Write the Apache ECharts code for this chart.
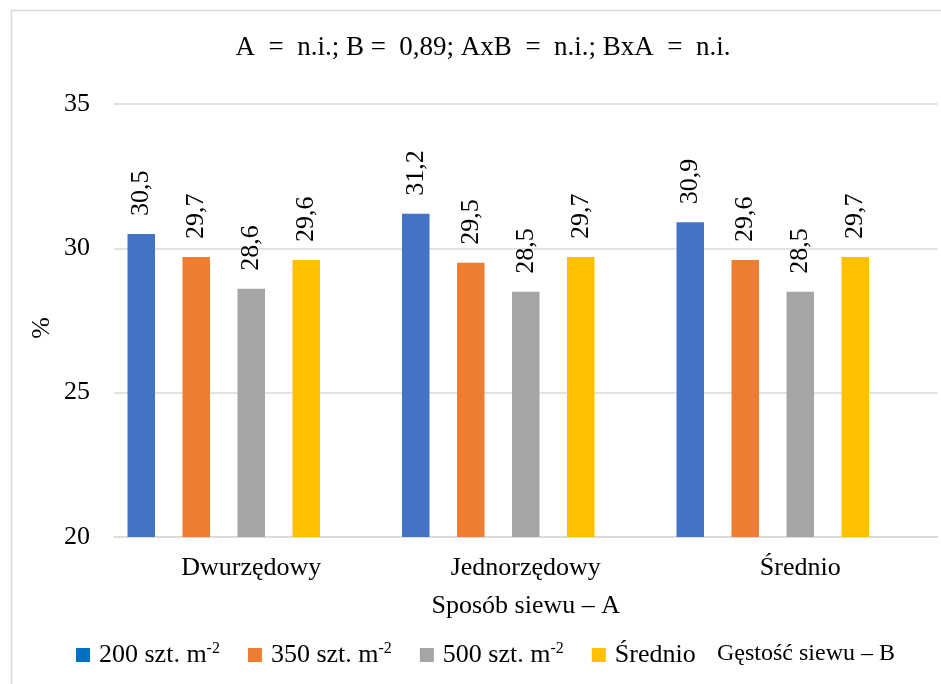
<!DOCTYPE html>
<html>
<head>
<meta charset="utf-8">
<script src="https://cdn.jsdelivr.net/npm/echarts@6/dist/echarts.min.js"></script>
<style>
html,body{margin:0;padding:0;background:#fff;}
#chart{width:941px;height:684px;}
</style>
</head>
<body>
<div id="chart"></div>
<script>
const categories = ['Dwurzędowy', 'Jednorzędowy', 'Średnio'];
const s200 = [30.5, 31.2, 30.9];
const s350 = [29.7, 29.5, 29.6];
const s500 = [28.6, 28.5, 28.5];
const sMean = [29.6, 29.7, 29.7];
const sEmpty = [null, null, null];
const seriesNames = ['200 szt. m-2', '350 szt. m-2', '500 szt. m-2', 'Średnio', 'Gęstość siewu – B'];
const yMin = 20, yMax = 35, yStep = 5;
const titleText = 'A  =  n.i.; B =  0,89; AxB  =  n.i.; BxA  =  n.i.';
const xAxisName = 'Sposób siewu – A';
const yAxisName = '%';

const FONT = '"Liberation Serif", "Times New Roman", serif';
const colors = ['#4472C4', '#ED7D31', '#A5A5A5', '#FFC000'];
const legendColors = ['#0070C0', '#ED7D31', '#A5A5A5', '#FFC000'];

const chart = echarts.init(document.getElementById('chart'), null, {renderer: 'canvas'});

const labelOpt = {
  show: true,
  position: 'top',
  rotate: 90,
  align: 'left',
  verticalAlign: 'middle',
  distance: 15,
  offset: [3, 0],
  fontFamily: FONT,
  fontSize: 26,
  color: '#000',
  formatter: p => p.value.toFixed(1).replace('.', ',')
};

const dataSets = [s200, s350, s500, sMean, sEmpty];
const series = dataSets.map((d, i) => ({
  name: seriesNames[i],
  type: 'bar',
  data: d,
  barWidth: 27.5,
  barGap: '100%',
  itemStyle: {color: colors[i] || '#ffffff'},
  label: labelOpt,
  silent: true,
  animation: false
}));

chart.setOption({
  animation: false,
  backgroundColor: '#fff',
  textStyle: {fontFamily: FONT},
  grid: {left: 114, right: 3.5, top: 104, bottom: 147, containLabel: false},
  legend: {
    left: 76,
    top: 641,
    padding: 0,
    itemWidth: 14,
    itemHeight: 14,
    itemGap: 28,
    icon: 'rect',
    selectedMode: false,
    data: seriesNames.slice(0, 4).map((n, i) => ({name: n, itemStyle: {color: legendColors[i]}})),
    formatter: n => n.replace('m-2', 'm{sup|-2}'),
    textStyle: {
      fontFamily: FONT,
      fontSize: 26,
      color: '#000',
      padding: [0, 0, 0, 4],
      rich: {
        sup: {fontFamily: FONT, fontSize: 16, color: '#000', padding: [0, 0, 12, 0]}
      }
    }
  },
  xAxis: {
    type: 'category',
    data: categories,
    name: xAxisName,
    nameLocation: 'middle',
    nameGap: 56,
    nameTextStyle: {fontFamily: FONT, fontSize: 26, color: '#000'},
    axisLine: {show: true, lineStyle: {color: '#D9D9D9', width: 1.5}},
    axisTick: {show: false},
    axisLabel: {fontFamily: FONT, fontSize: 26, color: '#000', margin: 18}
  },
  yAxis: {
    type: 'value',
    min: yMin,
    max: yMax,
    interval: yStep,
    axisLine: {show: false},
    axisTick: {show: false},
    axisLabel: {fontFamily: FONT, fontSize: 26, color: '#000', margin: 24},
    splitLine: {show: true, lineStyle: {color: '#D9D9D9', width: 1.5}}
  },
  graphic: [
    {
      type: 'rect',
      shape: {x: 11.5, y: 10.5, width: 1000, height: 1000},
      style: {fill: 'none', stroke: '#D9D9D9', lineWidth: 1.5},
      silent: true, z: -1
    },
    {
      type: 'text',
      x: 483, y: 48,
      style: {text: titleText, fontFamily: FONT, fontSize: 27, fill: '#000', textAlign: 'center', textVerticalAlign: 'middle'},
      silent: true
    },
    {
      type: 'text',
      x: 42, y: 328,
      rotation: Math.PI / 2,
      style: {text: yAxisName, fontFamily: FONT, fontSize: 26, fill: '#000', textAlign: 'center', textVerticalAlign: 'middle'},
      silent: true
    },
    {
      type: 'text',
      x: 717, y: 654,
      style: {text: seriesNames[4], fontFamily: FONT, fontSize: 24, fill: '#000', textAlign: 'left', textVerticalAlign: 'middle'},
      silent: true
    }
  ],
  series: series
});
</script>
</body>
</html>
